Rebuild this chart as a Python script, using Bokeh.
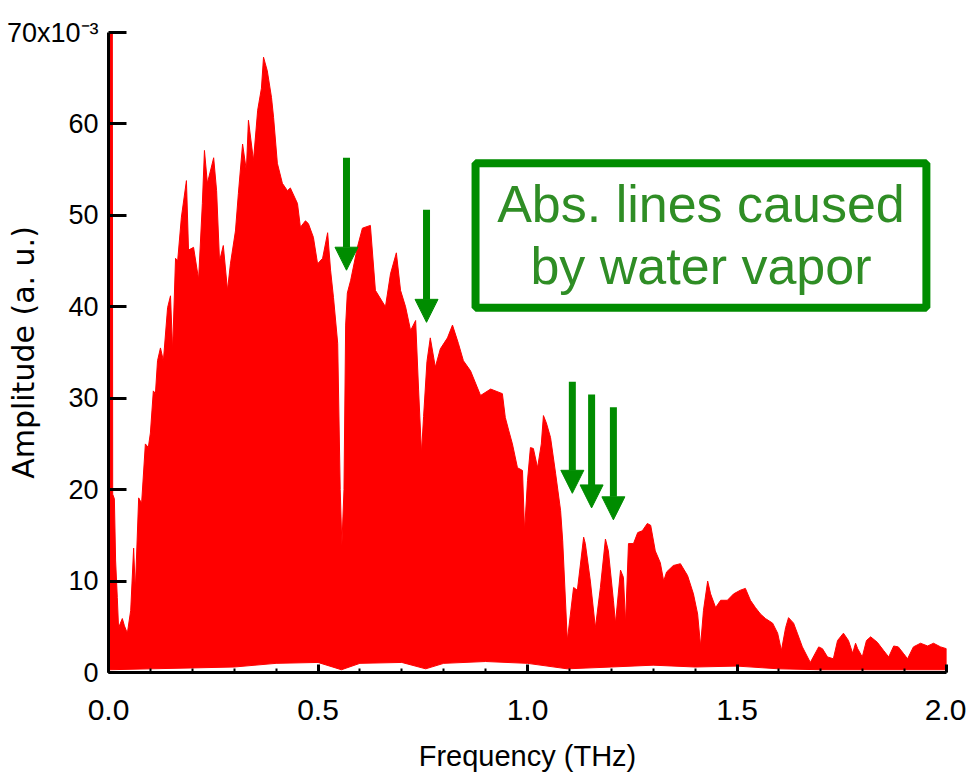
from bokeh.plotting import figure
from bokeh.models import (Range1d, FixedTicker, SingleIntervalTicker, PrintfTickFormatter,
                          Arrow, NormalHead)
from bokeh.embed import file_html
from bokeh.resources import INLINE

# THz spectrum: upper envelope of the amplitude (x 1e-3, a.u.)
freq_thz = [0.000, 0.003, 0.009, 0.010, 0.014, 0.017, 0.021, 0.024, 0.033, 0.038, 0.045, 0.053,
            0.060, 0.064, 0.072, 0.079, 0.088, 0.095, 0.100, 0.107, 0.112, 0.117, 0.124, 0.131,
            0.141, 0.148, 0.153, 0.160, 0.165, 0.174, 0.186, 0.191, 0.203, 0.215, 0.224, 0.229,
            0.236, 0.251, 0.258, 0.265, 0.274, 0.284, 0.291, 0.303, 0.310, 0.320, 0.329, 0.334,
            0.346, 0.356, 0.365, 0.370, 0.379, 0.389, 0.394, 0.403, 0.415, 0.427, 0.434, 0.451,
            0.458, 0.470, 0.477, 0.489, 0.499, 0.511, 0.523, 0.530, 0.537, 0.547, 0.553, 0.557,
            0.562, 0.566, 0.570, 0.578, 0.594, 0.606, 0.625, 0.637, 0.661, 0.673, 0.687, 0.697,
            0.709, 0.721, 0.733, 0.740, 0.747, 0.752, 0.760, 0.768, 0.780, 0.792, 0.809, 0.821,
            0.835, 0.847, 0.864, 0.888, 0.912, 0.940, 0.947, 0.955, 0.964, 0.976, 0.988, 0.993,
            1.000, 1.007, 1.014, 1.024, 1.033, 1.038, 1.045, 1.055, 1.067, 1.079, 1.084, 1.095,
            1.110, 1.119, 1.134, 1.138, 1.150, 1.162, 1.174, 1.186, 1.193, 1.205, 1.210, 1.222,
            1.229, 1.234, 1.241, 1.253, 1.263, 1.274, 1.286, 1.294, 1.305, 1.317, 1.325, 1.332,
            1.348, 1.365, 1.382, 1.396, 1.406, 1.413, 1.420, 1.430, 1.437, 1.449, 1.461, 1.477,
            1.492, 1.508, 1.520, 1.532, 1.544, 1.556, 1.568, 1.585, 1.597, 1.606, 1.616, 1.623,
            1.635, 1.644, 1.656, 1.675, 1.695, 1.704, 1.716, 1.730, 1.740, 1.754, 1.766, 1.776,
            1.783, 1.788, 1.799, 1.809, 1.819, 1.835, 1.850, 1.862, 1.874, 1.885, 1.897, 1.907,
            1.921, 1.938, 1.955, 1.969, 1.986, 2.000]
amp_upper = [1.0, 80.0, 80.0, 19.5, 19.0, 12.2, 8.2, 4.9, 5.9, 5.1, 4.3, 6.8,
             13.6, 9.0, 19.1, 18.5, 25.0, 24.6, 26.2, 30.8, 30.5, 34.1, 35.5, 34.1,
             39.9, 41.2, 35.2, 45.3, 45.0, 49.8, 53.8, 46.2, 46.5, 43.0, 51.3, 57.1,
             53.5, 56.3, 52.7, 45.0, 46.7, 41.8, 44.7, 48.3, 52.4, 57.8, 54.9, 60.4,
             56.0, 61.5, 63.9, 67.3, 65.8, 62.9, 60.7, 55.7, 53.5, 52.7, 53.0, 51.3,
             48.7, 49.4, 49.1, 47.6, 44.7, 45.3, 48.1, 44.0, 41.0, 36.0, 20.0, 13.9,
             20.0, 38.0, 41.5, 42.9, 46.5, 48.6, 48.9, 41.8, 40.0, 43.6, 45.9, 41.8,
             40.0, 37.4, 38.5, 31.0, 24.0, 28.0, 34.0, 36.6, 33.4, 35.4, 36.6, 38.0,
             36.0, 34.1, 33.0, 30.3, 31.0, 30.5, 27.9, 26.5, 25.0, 22.4, 22.1, 15.5,
             21.0, 24.6, 24.5, 22.4, 25.0, 28.1, 27.3, 25.7, 21.8, 17.7, 14.4, 3.5,
             9.3, 9.0, 14.8, 14.1, 10.0, 4.9, 9.3, 14.6, 13.3, 7.9, 5.4, 11.2,
             10.4, 5.4, 14.1, 14.1, 15.3, 15.5, 16.3, 16.1, 13.3, 12.0, 10.0, 11.0,
             11.7, 11.9, 10.6, 8.6, 6.4, 2.9, 6.8, 10.0, 8.6, 7.1, 7.9, 7.9,
             8.6, 9.0, 9.2, 7.9, 7.1, 6.4, 5.9, 5.4, 4.3, 2.4, 4.9, 6.0,
             5.4, 4.3, 2.8, 1.1, 2.8, 2.6, 1.7, 1.5, 3.5, 4.3, 3.5, 2.1,
             3.2, 2.6, 1.7, 3.5, 3.9, 3.3, 2.4, 1.7, 2.9, 2.8, 2.1, 1.5,
             2.8, 3.2, 2.9, 3.2, 2.8, 2.6]

# lower envelope of the oscillating signal
freq_lower = [0.000, 0.100, 0.200, 0.300, 0.400, 0.500, 0.556, 0.600, 0.700, 0.757, 0.800,
              0.900, 1.000, 1.095, 1.200, 1.300, 1.400, 1.500, 1.600, 1.700, 1.800, 1.900, 2.000]
amp_lower = [0.3, 0.4, 0.5, 0.6, 1.0, 1.1, 0.3, 1.0, 1.1, 0.4, 1.0,
             1.2, 1.0, 0.4, 0.6, 0.8, 0.6, 0.7, 0.4, 0.3, 0.3, 0.3, 0.3]

y_ticks = [0, 10, 20, 30, 40, 50, 60, 70]
y_top_label = "70x10\u207b\u00b3"

# water-vapour absorption lines marked with arrows: (frequency, arrow top, arrow tip)
abs_line_freq = [0.568, 0.759, 1.107, 1.153, 1.205]
arrow_top = [56.3, 50.6, 31.8, 30.4, 29.0]
arrow_tip = [44.0, 38.3, 19.6, 18.0, 16.7]

RED = "#ff0000"
GREEN = "#008c00"
TEXT_GREEN = "#2f8d25"
FONT = "Liberation Sans"

p = figure(width=966, height=779, output_backend="svg", toolbar_location=None,
           x_range=Range1d(0, 2.0), y_range=Range1d(0, 70),
           min_border_left=108, min_border_right=20, min_border_top=32, min_border_bottom=107)
p.outline_line_color = None
p.xgrid.visible = False
p.ygrid.visible = False
p.background_fill_color = "white"
p.border_fill_color = "white"

# filled spectrum
xs = freq_thz + freq_lower[::-1]
ys = amp_upper + amp_lower[::-1]
p.patch(xs, ys, fill_color=RED, line_color=RED, line_width=1)

# x axis
xa = p.xaxis[0]
xa.ticker = SingleIntervalTicker(interval=0.5, num_minor_ticks=5)
xa.formatter = PrintfTickFormatter(format="%.1f")
xa.axis_line_width = 3
xa.axis_line_color = "black"
xa.major_tick_in = 8
xa.major_tick_out = 0
xa.minor_tick_in = 4
xa.minor_tick_out = 0
xa.major_tick_line_width = 3
xa.minor_tick_line_width = 2
xa.major_label_text_font = FONT
xa.major_label_text_font_size = "30px"
xa.major_label_text_color = "black"
xa.major_label_standoff = 27
xa.axis_label = "Frequency (THz)"
xa.axis_label_text_font = FONT
xa.axis_label_text_font_size = "29px"
xa.axis_label_text_font_style = "normal"
xa.axis_label_text_color = "black"
xa.axis_label_standoff = 17

# y axis; the axis title tucks in under the wide top label
ya = p.yaxis[0]
ya.ticker = FixedTicker(ticks=y_ticks)
ya.major_label_overrides = {70: y_top_label}
ya.axis_line_width = 3
ya.axis_line_color = "black"
ya.major_tick_in = 18
ya.major_tick_out = 0
ya.minor_tick_line_color = None
ya.major_tick_line_width = 3
ya.major_label_text_font = FONT
ya.major_label_text_font_size = "27px"
ya.major_label_text_color = "black"
ya.major_label_standoff = 10
ya.axis_label = "Amplitude (a. u.)"
ya.axis_label_text_font = "DejaVu Sans"
ya.axis_label_text_font_size = "30px"
ya.axis_label_text_font_style = "normal"
ya.axis_label_text_color = "black"
ya.axis_label_standoff = -37

# arrows pointing at the absorption lines
for f, top, tip in zip(abs_line_freq, arrow_top, arrow_tip):
    p.add_layout(Arrow(end=NormalHead(size=23, fill_color=GREEN, line_color=GREEN, line_width=1),
                       x_start=f, y_start=top, x_end=f, y_end=tip,
                       line_color=GREEN, line_width=7))

# annotation box
p.quad(left=[0.876], right=[1.952], top=[55.7], bottom=[39.9],
       fill_color="white", line_color=GREEN, line_width=8)
p.text(x=[1.414, 1.414], y=[51.2, 44.5], text=["Abs. lines caused", "by water vapor"],
       text_align="center", text_baseline="alphabetic",
       text_font={"value": FONT}, text_font_size="52px", text_color=TEXT_GREEN)

open("out.html", "w").write(file_html(p, INLINE))
